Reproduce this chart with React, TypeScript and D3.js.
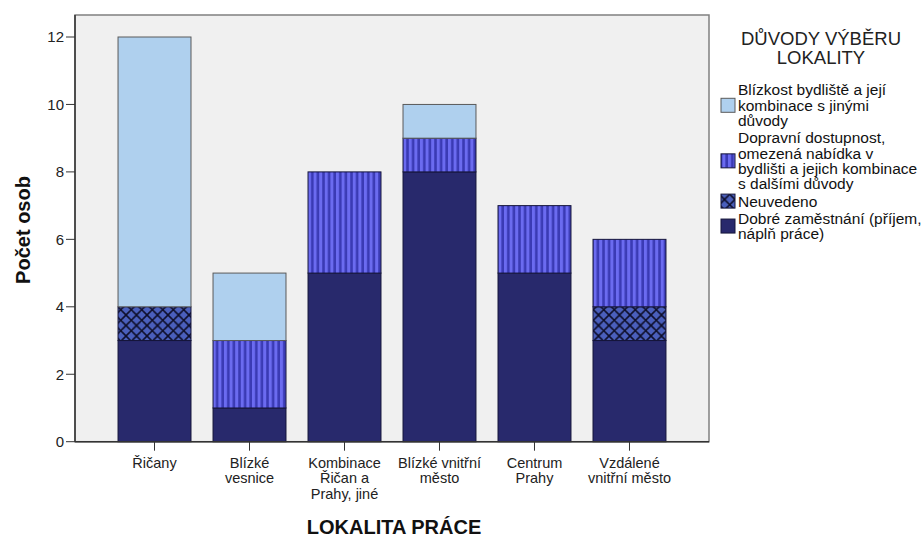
import React from "react";
import * as d3 from "d3";

const categories = ["Řičany", "Blízké vesnice", "Kombinace Řičan a Prahy, jiné", "Blízké vnitřní město", "Centrum Prahy", "Vzdálené vnitřní město"];
const categoryLines = [["Řičany"], ["Blízké", "vesnice"], ["Kombinace", "Řičan a", "Prahy, jiné"], ["Blízké vnitřní", "město"], ["Centrum", "Prahy"], ["Vzdálené", "vnitřní město"]];
const dobre = [3, 1, 5, 8, 5, 3];
const neuvedeno = [1, 0, 0, 0, 0, 1];
const doprava = [0, 2, 3, 1, 2, 2];
const blizkost = [8, 2, 0, 1, 0, 0];
const yTicks = [0, 2, 4, 6, 8, 10, 12];
const legendTitle = ["DŮVODY VÝBĚRU", "LOKALITY"];
const legendItems = [
  { key: "blizkost", lines: ["Blízkost bydliště a její", "kombinace s jinými", "důvody"] },
  { key: "doprava", lines: ["Dopravní dostupnost,", "omezená nabídka v", "bydlišti a jejich kombinace", "s dalšími důvody"] },
  { key: "neuvedeno", lines: ["Neuvedeno"] },
  { key: "dobre", lines: ["Dobré zaměstnání (příjem,", "náplň práce)"] },
];

const seriesKeys = ["dobre", "neuvedeno", "doprava", "blizkost"];
const fills: Record<string, string> = {
  dobre: "#28296c",
  neuvedeno: "url(#patNeu)",
  doprava: "url(#patDop)",
  blizkost: "#afd0ee",
};
const strokes: Record<string, string> = {
  dobre: "#15153a",
  neuvedeno: "#15153a",
  doprava: "#15153a",
  blizkost: "#5a5a5a",
};

const FONT = "'Liberation Sans', Arial, sans-serif";

export default function App() {
  const left = 75, right = 709, top = 15, bottom = 441.7;
  const rows = categories.map((c, i) => ({ cat: c, dobre: dobre[i], neuvedeno: neuvedeno[i], doprava: doprava[i], blizkost: blizkost[i] }));
  const stack = d3.stack<any>().keys(seriesKeys)(rows);
  const x = d3.scaleBand<string>().domain(categories).range([left, right]).paddingInner(0.232).paddingOuter(0.453);
  const y = d3.scaleLinear().domain([0, 12]).range([bottom, 37]);

  return (
    <svg width={924} height={537} style={{ display: "block", position: "absolute", left: 0, top: 0 }} fontFamily={FONT}>
      <defs>
        <pattern id="patDop" patternUnits="userSpaceOnUse" width={5.6} height={10}>
          <rect width={5.6} height={10} fill="#3a3ab4" />
          <rect x={0} width={3} height={10} fill="#6b6bf0" />
        </pattern>
        <pattern id="patNeu" patternUnits="userSpaceOnUse" width={10.5} height={10.5}>
          <rect width={10.5} height={10.5} fill="#4a5fbd" />
          <path d="M5.25,2.5 L8,5.25 L5.25,8 L2.5,5.25 Z" fill="#5d74cf" />
          <path d="M0,0 L10.5,10.5 M10.5,0 L0,10.5" stroke="#0d0d2a" strokeWidth={1.6} />
          <path d="M-1,1 L1,-1 M9.5,11.5 L11.5,9.5 M-1,9.5 L1,11.5 M9.5,-1 L11.5,1" stroke="#0d0d2a" strokeWidth={1.6} />
        </pattern>
      </defs>
      <rect x={left} y={top} width={right - left} height={bottom - top} fill="#f0f0f0" stroke="#808080" strokeWidth={1.5} />
      {stack.map((s) =>
        s.map((d, i) => {
          const h = y(d[0]) - y(d[1]);
          if (h <= 0) return null;
          return (
            <rect key={s.key + i} x={x(categories[i])} y={y(d[1])} width={x.bandwidth()} height={h}
              fill={fills[s.key]} stroke={strokes[s.key]} strokeWidth={1} />
          );
        })
      )}
      <line x1={left} x2={left} y1={top} y2={bottom} stroke="#333" strokeWidth={1.5} />
      <line x1={left} x2={right} y1={bottom} y2={bottom} stroke="#333" strokeWidth={1.5} />
      {yTicks.map((t) => (
        <g key={t}>
          <line x1={left - 9} x2={left} y1={y(t)} y2={y(t)} stroke="#333" strokeWidth={1} />
          <text x={left - 11} y={y(t)} dy="0.35em" textAnchor="end" fontSize={15} fill="#222">{t}</text>
        </g>
      ))}
      {categories.map((c, i) => {
        const cx = (x(c) as number) + x.bandwidth() / 2;
        return (
          <g key={c}>
            <line x1={cx} x2={cx} y1={bottom} y2={bottom + 9} stroke="#333" strokeWidth={1} />
            {categoryLines[i].map((l, j) => (
              <text key={j} x={cx} y={bottom + 26 + j * 15.5} textAnchor="middle" fontSize={14.5} fill="#222">{l}</text>
            ))}
          </g>
        );
      })}
      <text x={394} y={534} textAnchor="middle" fontSize={20} fontWeight="bold" fill="#111">LOKALITA PRÁCE</text>
      <text transform="translate(30,230) rotate(-90)" textAnchor="middle" fontSize={20} fontWeight="bold" fill="#111">Počet osob</text>
      {legendTitle.map((t, i) => (
        <text key={t} x={821} y={45 + i * 19} textAnchor="middle" fontSize={18.5} fill="#222">{t}</text>
      ))}
      {(() => {
        let yy = 90;
        return legendItems.map((it) => {
          const n = it.lines.length;
          const startY = yy;
          const midY = startY + ((n - 1) * 15.3) / 2;
          yy += n * 15.3 + 2;
          return (
            <g key={it.key}>
              <rect x={721} y={midY - 7} width={14} height={14} fill={fills[it.key]} stroke={strokes[it.key]} strokeWidth={1} />
              {it.lines.map((l, j) => (
                <text key={j} x={738} y={startY + j * 15.3} dy="0.35em" fontSize={15.5} fill="#111">{l}</text>
              ))}
            </g>
          );
        });
      })()}
    </svg>
  );
}
